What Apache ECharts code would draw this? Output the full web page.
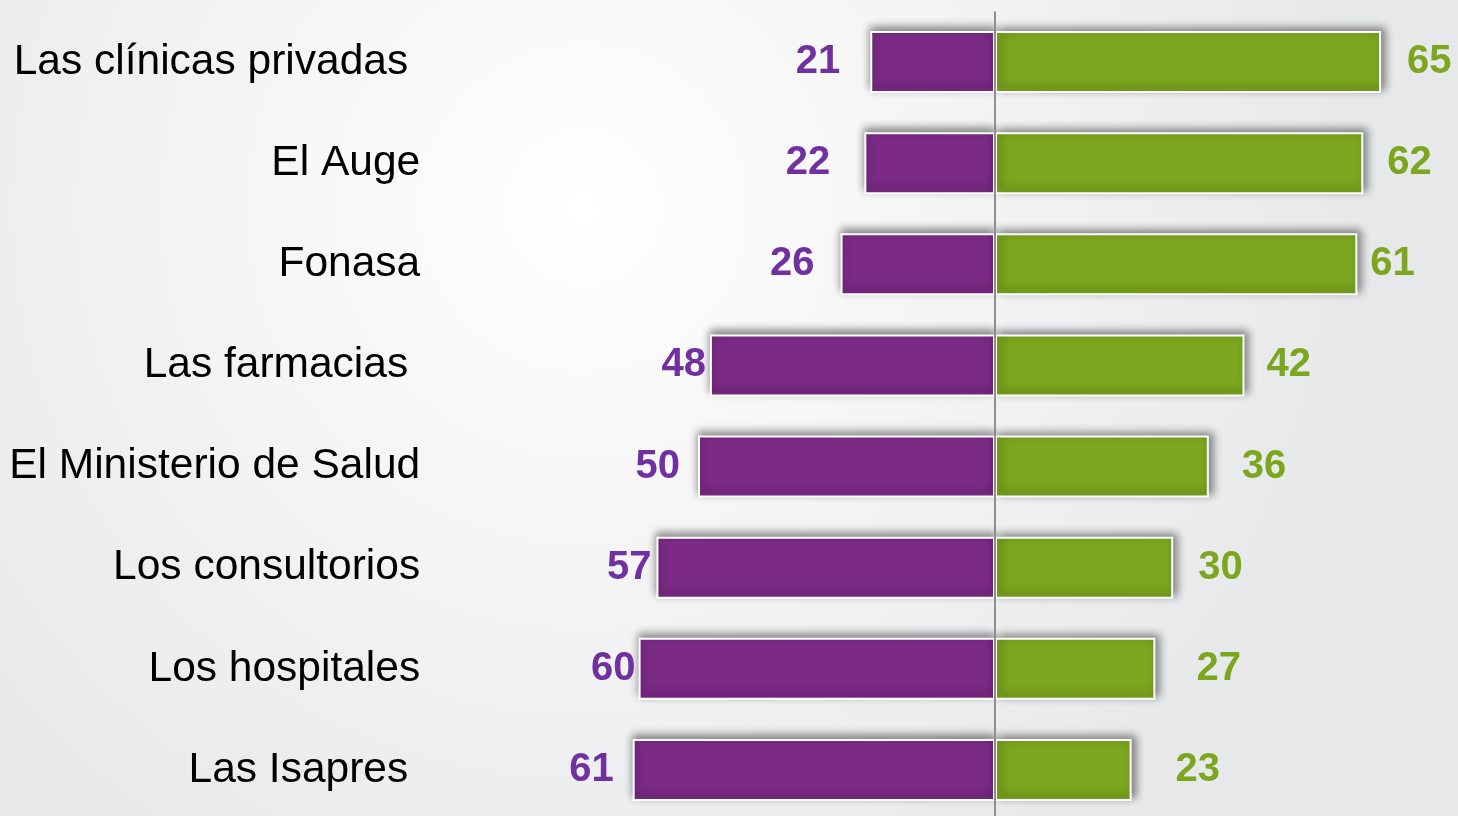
<!DOCTYPE html>
<html>
<head>
<meta charset="utf-8">
<style>
  html, body { margin: 0; padding: 0; overflow: hidden; }
  #chart { width: 1458px; height: 830px; }
</style>
<script src="https://cdn.jsdelivr.net/npm/echarts@6/dist/echarts.min.js"></script>
</head>
<body>
<div id="chart"></div>
<script>
// datos
var categories = ['Las clínicas privadas', 'El Auge', 'Fonasa', 'Las farmacias', 'El Ministerio de Salud', 'Los consultorios', 'Los hospitales', 'Las Isapres'];
var negativeValues = [21, 22, 26, 48, 50, 57, 60, 61];
var positiveValues = [65, 62, 61, 42, 36, 30, 27, 23];

// separacion de etiquetas (como en la lamina original)
var indentedLabels = ['Las clínicas privadas', 'Las farmacias', 'Las Isapres'];
var leftGaps = [30, 34, 26, 4, 18, 5, 3, 19];
var rightGaps = [26, 24, 13, 22, 33, 25, 41, 44];

var purple = '#7b2a85';
var green = '#7ba61e';

var chart = echarts.init(document.getElementById('chart'));

var option = {
  backgroundColor: {
    type: 'radial', x: 0.4, y: 0.25, r: 0.95,
    colorStops: [
      { offset: 0, color: '#ffffff' },
      { offset: 1, color: '#e7e8ea' }
    ]
  },
  grid: {
    left: 579.2,
    right: 47.2,
    top: 11.5,
    height: 809
  },
  xAxis: {
    type: 'value',
    min: -70,
    max: 70,
    show: false
  },
  yAxis: {
    type: 'category',
    inverse: true,
    data: categories.map(function (c) {
      if (indentedLabels.indexOf(c) >= 0) {
        return { value: c, textStyle: { padding: [0, 12, 0, 0] } };
      }
      return c;
    }),
    axisLine: { show: false, onZero: false },
    axisTick: { show: false },
    axisLabel: {
      margin: 159,
      color: '#000',
      fontSize: 42.5,
      fontFamily: 'Liberation Sans, Arial, sans-serif'
    }
  },
  series: [
    {
      type: 'bar',
      stack: 'total',
      barWidth: 62,
      data: negativeValues.map(function (v, i) {
        return { value: -v, label: { distance: leftGaps[i] } };
      }),
      itemStyle: {
        color: purple,
        borderColor: '#fff',
        borderWidth: 2,
        shadowColor: 'rgba(0,0,0,0.45)',
        shadowBlur: 8,
        shadowOffsetY: -4
      },
      label: {
        show: true,
        position: 'left',
        color: '#7030a0',
        fontSize: 40,
        fontWeight: 'bold',
        fontFamily: 'Liberation Sans, Arial, sans-serif',
        formatter: function (p) { return Math.abs(p.value); }
      },
      markLine: {
        silent: true,
        symbol: 'none',
        label: { show: false },
        lineStyle: { color: '#8f8f8f', width: 2, type: 'solid' },
        data: [{ xAxis: 0 }]
      },
      z: 2
    },
    {
      type: 'bar',
      stack: 'total',
      barWidth: 62,
      data: positiveValues.map(function (v, i) {
        return { value: v, label: { distance: rightGaps[i] } };
      }),
      itemStyle: {
        color: green,
        borderColor: '#fff',
        borderWidth: 2,
        shadowColor: 'rgba(0,0,0,0.45)',
        shadowBlur: 8,
        shadowOffsetX: 4,
        shadowOffsetY: -3
      },
      label: {
        show: true,
        position: 'right',
        color: green,
        fontSize: 40,
        fontWeight: 'bold',
        fontFamily: 'Liberation Sans, Arial, sans-serif'
      },
      z: 2
    }
  ]
};

chart.setOption(option);
</script>
</body>
</html>
